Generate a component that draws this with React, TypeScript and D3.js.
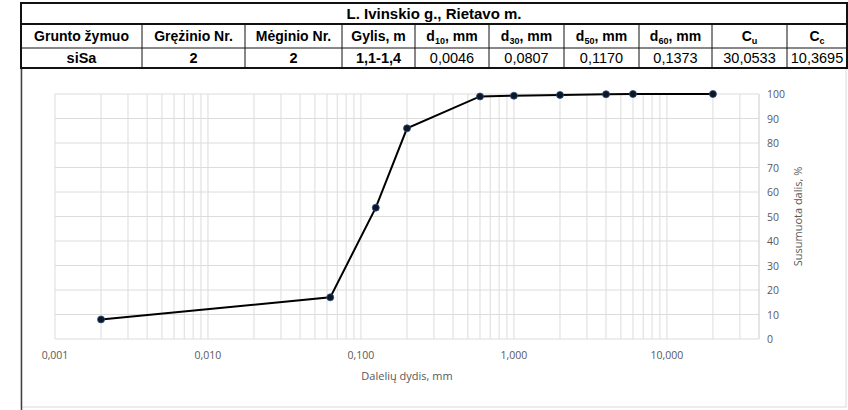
import React from "react";
import * as d3 from "d3";

const title = "L. Ivinskio g., Rietavo m.";
const headerMain = ["Grunto žymuo", "Grężinio Nr.", "Mėginio Nr.", "Gylis, m", "d", "d", "d", "d", "C", "C"];
const headerSub = ["", "", "", "", "10", "30", "50", "60", "u", "c"];
const headerTail = ["", "", "", "", ", mm", ", mm", ", mm", ", mm", "", ""];
const rowValues = ["siSa", "2", "2", "1,1-1,4", "0,0046", "0,0807", "0,1170", "0,1373", "30,0533", "10,3695"];
const rowBold = [true, true, true, true, false, false, false, false, false, false];

const sizes = [0.002, 0.063, 0.125, 0.2, 0.6, 1, 2, 4, 6, 20];
const passing = [8, 17, 53.6, 86, 99, 99.3, 99.6, 99.9, 100, 100];

const xMajor = [0.001, 0.01, 0.1, 1, 10];
const yTicks = [0, 10, 20, 30, 40, 50, 60, 70, 80, 90, 100];

const colEdges = [21, 142, 245, 342, 415, 489, 564, 639, 712, 787, 847];

export default function App() {
  const W = 848, H = 410;
  const x = d3.scaleLog().domain([0.001, 40]).range([55, 759]);
  const y = d3.scaleLinear().domain([0, 100]).range([339, 94]);

  const gridX: number[] = [];
  xMajor.forEach((d) => {
    for (let m = 1; m <= 9; m++) {
      const v = m * d;
      if (v <= 40.0001) gridX.push(v);
    }
  });
  gridX.push(40);

  const line = d3
    .line<number>()
    .x((_, i) => x(sizes[i]))
    .y((d) => y(d));

  const fmt = (v: number) => v.toFixed(3).replace(".", ",");
  const tableFont = "'Liberation Sans', Arial, sans-serif";
  const chartFont = "'Open Sans', 'Noto Sans', sans-serif";

  const rowTop = [3, 24, 48, 68];

  return (
    <svg
      width={W}
      height={H}
      style={{ position: "absolute", left: 0, top: 0, display: "block", background: "#fff" }}
    >
      <rect x={0} y={0} width={W} height={H} fill="#fff" />
      {/* chart area border */}
      <rect x={21} y={68} width={825} height={339} fill="none" stroke="#d9d9d9" strokeWidth={1} />
      <line x1={21.5} y1={68} x2={21.5} y2={H} stroke="#404040" strokeWidth={1.5} />

      {/* table */}
      <g fontFamily={tableFont} fill="#000">
        <text x={(colEdges[0] + colEdges[colEdges.length - 1]) / 2} y={19} textAnchor="middle" fontWeight="bold" fontSize={15}>
          {title}
        </text>
        {headerMain.map((h, i) => {
          const cx = (colEdges[i] + colEdges[i + 1]) / 2;
          return (
            <text key={"h" + i} x={cx} y={41} textAnchor="middle" fontWeight="bold" fontSize={14}>
              {h}
              {headerSub[i] && (
                <tspan fontSize={9} dy={3}>
                  {headerSub[i]}
                </tspan>
              )}
              {headerTail[i] && <tspan dy={-3}>{headerTail[i]}</tspan>}
            </text>
          );
        })}
        {rowValues.map((v, i) => {
          const cx = (colEdges[i] + colEdges[i + 1]) / 2;
          return (
            <text key={"v" + i} x={cx} y={63} textAnchor="middle" fontWeight={rowBold[i] ? "bold" : "normal"} fontSize={14.5}>
              {v}
            </text>
          );
        })}
        {colEdges.slice(1, -1).map((cx, i) => (
          <line key={"c" + i} x1={cx} y1={rowTop[1]} x2={cx} y2={rowTop[3]} stroke="#111" strokeWidth={1} />
        ))}
        <line x1={21} y1={rowTop[2]} x2={847} y2={rowTop[2]} stroke="#111" strokeWidth={1} />
        <line x1={21} y1={rowTop[1]} x2={847} y2={rowTop[1]} stroke="#111" strokeWidth={1.8} />
        <rect x={21} y={rowTop[0]} width={826} height={rowTop[3] - rowTop[0]} fill="none" stroke="#111" strokeWidth={2} />
      </g>

      {/* grid */}
      <g stroke="#dcdcdc" strokeWidth={1}>
        {gridX.map((v, i) => (
          <line key={"gx" + i} x1={x(v)} x2={x(v)} y1={y(100)} y2={y(0)} />
        ))}
        {yTicks.map((t) => (
          <line key={"gy" + t} x1={x(0.001)} x2={x(40)} y1={y(t)} y2={y(t)} />
        ))}
      </g>

      {/* axis labels */}
      <g fontFamily={chartFont} fontSize={10.5} fill="#595959">
        {xMajor.map((v) => (
          <text key={"xl" + v} x={x(v)} y={359} textAnchor="middle">
            {fmt(v)}
          </text>
        ))}
        {yTicks.map((t) => (
          <text key={"yl" + t} x={767} y={y(t) + 4} textAnchor="start">
            {t}
          </text>
        ))}
        <text x={(x(0.001) + x(40)) / 2} y={380} textAnchor="middle" fontSize={11}>
          Dalelių dydis, mm
        </text>
        <text
          transform={`translate(802, ${(y(0) + y(100)) / 2}) rotate(-90)`}
          textAnchor="middle"
          fontSize={11}
        >
          Susumuota dalis, %
        </text>
      </g>

      {/* data */}
      <path d={line(passing) || ""} fill="none" stroke="#000" strokeWidth={2} />
      {passing.map((p, i) => (
        <circle key={"p" + i} cx={x(sizes[i])} cy={y(p)} r={3.5} fill="#0b1626" stroke="#2f4f7f" strokeWidth={0.8} />
      ))}
    </svg>
  );
}
